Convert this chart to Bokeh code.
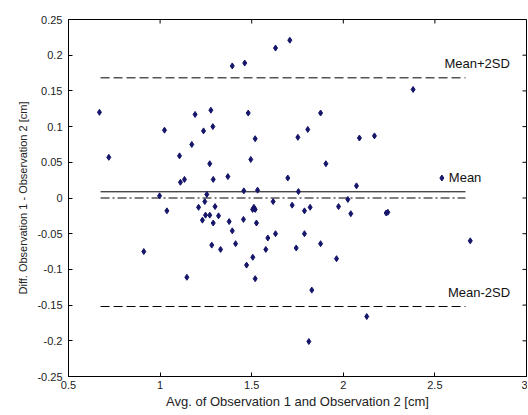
import math
from bokeh.plotting import figure
from bokeh.models import ColumnDataSource, FixedTicker, Range1d
from bokeh.core.properties import value
from bokeh.embed import file_html
from bokeh.resources import INLINE

# --- data ---
avg = [0.669, 0.720, 1.024, 1.106, 1.111, 1.133, 1.173, 1.191, 1.237, 1.277,
       1.288, 1.271, 1.290, 1.370, 1.394, 1.462, 1.481, 1.519, 1.495, 1.457,
       1.532, 1.630, 1.708, 1.697, 0.997, 1.255, 2.381, 1.876, 1.806, 1.752,
       2.088, 2.170, 1.905, 2.072, 1.755, 2.538, 2.025, 1.037, 1.210, 1.244,
       1.248, 1.271, 1.231, 1.300, 1.319, 1.290, 1.377, 1.455, 1.394, 1.412,
       1.282, 1.330, 0.911, 1.146, 1.472, 1.506, 1.519, 1.505, 1.519, 1.512,
       1.526, 1.617, 1.630, 1.588, 1.577, 1.721, 1.788, 1.819, 1.974, 2.041,
       2.234, 2.243, 1.788, 1.743, 1.876, 1.963, 2.693, 1.828, 2.128, 1.812]
diff = [0.120, 0.057, 0.095, 0.059, 0.022, 0.026, 0.075, 0.117, 0.094, 0.123,
        0.100, 0.048, 0.026, 0.030, 0.185, 0.189, 0.119, 0.083, 0.054, 0.010,
        0.011, 0.210, 0.221, 0.028, 0.003, 0.005, 0.152, 0.119, 0.096, 0.085,
        0.084, 0.087, 0.048, 0.017, 0.009, 0.028, -0.002, -0.018, -0.013, -0.005,
        -0.024, -0.024, -0.031, -0.012, -0.025, -0.035, -0.033, -0.030, -0.046, -0.064,
        -0.066, -0.072, -0.075, -0.111, -0.094, -0.083, -0.113, -0.016, -0.016, -0.013,
        -0.035, -0.005, -0.050, -0.056, -0.072, -0.010, -0.018, -0.013, -0.012, -0.022,
        -0.021, -0.020, -0.050, -0.070, -0.064, -0.085, -0.060, -0.129, -0.166, -0.201]

mean_val = 0.0087
upper_val = 0.1683
lower_val = -0.152
zero_val = 0.0
line_x = [0.675, 2.667]

x_ticks = [0.5, 1.0, 1.5, 2.0, 2.5, 3.0]
x_tick_labels = ["0.5", "1", "1.5", "2", "2.5", "3"]
y_ticks = [0.25, 0.2, 0.15, 0.1, 0.05, 0.0, -0.05, -0.1, -0.15, -0.2, -0.25]
y_tick_labels = ["0.25", "0.2", "0.15", "0.1", "0.05", "0", "-0.05", "-0.1", "-0.15", "-0.2", "-0.25"]

label_names = ["Mean+2SD", "Mean", "Mean-2SD"]
label_x = [2.552, 2.576, 2.571]
label_y = [0.188, 0.0287, -0.132]

FONT = "Liberation Sans"
x_lo, x_hi = min(x_ticks), max(x_ticks)
y_lo, y_hi = min(y_ticks), max(y_ticks)

p = figure(width=527, height=414, output_backend="svg", toolbar_location=None,
           x_range=Range1d(x_lo, x_hi), y_range=Range1d(y_lo, y_hi),
           min_border_left=68, min_border_top=19, min_border_right=1, min_border_bottom=38)
p.xgrid.visible = False
p.ygrid.visible = False
p.outline_line_color = "black"
p.outline_line_alpha = 1.0
p.background_fill_color = "white"
p.border_fill_color = "white"

# box ticks on top and right (MATLAB style)
p.ray(x=x_ticks, y=[y_hi] * len(x_ticks), length=4, length_units="screen",
      angle=-math.pi / 2, line_color="black", line_width=1)
p.ray(x=[x_hi] * len(y_ticks), y=y_ticks, length=4, length_units="screen",
      angle=math.pi, line_color="black", line_width=1)

# lines
p.line(line_x, [upper_val, upper_val], line_color="black", line_width=1, line_dash="9 4")
p.line(line_x, [lower_val, lower_val], line_color="black", line_width=1, line_dash="9 4")
p.line(line_x, [mean_val, mean_val], line_color="black", line_width=1)
p.line(line_x, [zero_val, zero_val], line_color="black", line_width=1, line_dash="9 3 2 3")

# points
src = ColumnDataSource(dict(x=avg, y=diff))
p.scatter("x", "y", source=src, marker="diamond", size=6, fill_color="#15156a",
          line_color="#15156a")

# labels
lsrc = ColumnDataSource(dict(x=label_x, y=label_y, t=label_names))
p.text("x", "y", text="t", source=lsrc, text_font=value(FONT), text_font_size="13px",
       text_baseline="middle", text_align="left", text_color="#111111")

# axes
def style_axis(ax):
    ax.major_tick_in = 4
    ax.major_tick_out = 0
    ax.minor_tick_line_color = None
    ax.axis_line_color = "black"
    ax.major_tick_line_color = "black"
    ax.major_label_text_font = FONT
    ax.major_label_text_font_size = "11px"
    ax.major_label_text_color = "#222222"
    ax.axis_label_text_font = FONT
    ax.axis_label_text_font_style = "normal"
    ax.axis_label_text_color = "#222222"

xa = p.xaxis[0]
xa.ticker = FixedTicker(ticks=x_ticks)
xa.major_label_overrides = {t: l for t, l in zip(x_ticks, x_tick_labels)}
style_axis(xa)
xa.axis_label = "Avg. of Observation 1 and Observation 2 [cm]"
xa.axis_label_text_font_size = "13px"
xa.major_label_standoff = 4
xa.axis_label_standoff = 2

ya = p.yaxis[0]
ya.ticker = FixedTicker(ticks=y_ticks)
ya.major_label_overrides = {t: l for t, l in zip(y_ticks, y_tick_labels)}
style_axis(ya)
ya.axis_label = "Diff. Observation 1 - Observation 2 [cm]"
ya.axis_label_text_font_size = "11px"
ya.major_label_standoff = 6
ya.axis_label_standoff = 5

open("out.html", "w").write(file_html(p, INLINE))
